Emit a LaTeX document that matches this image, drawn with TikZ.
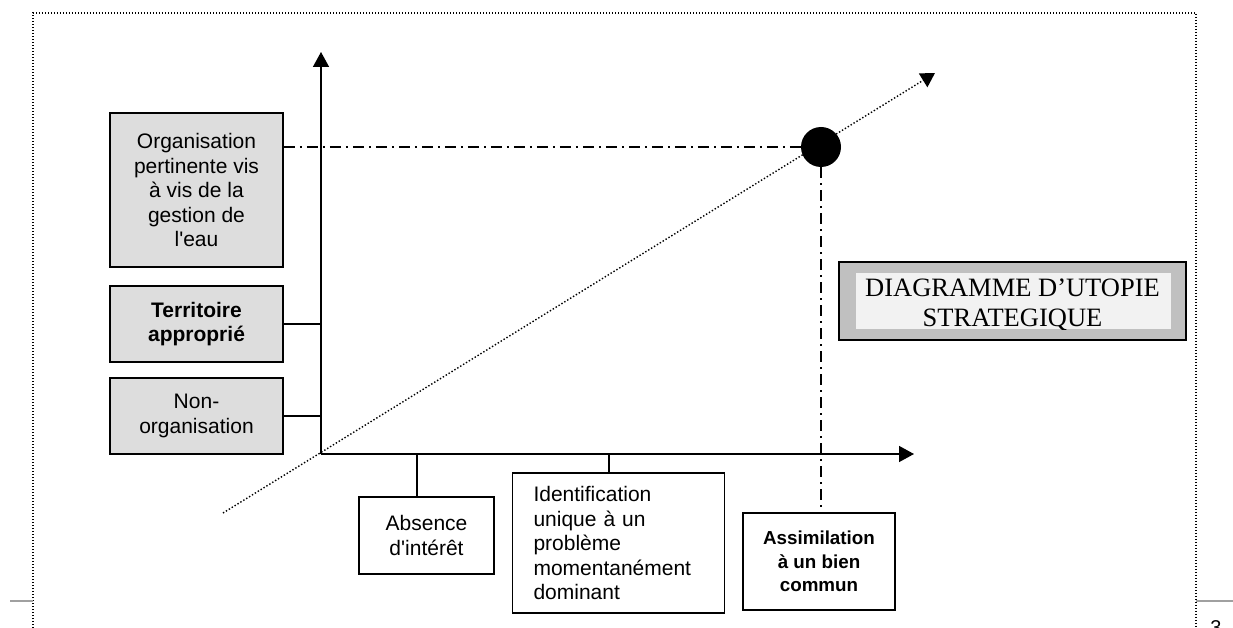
\documentclass[tikz,border=0pt]{standalone}
\usepackage{fontspec}
\setmainfont{Liberation Serif}
\newfontfamily\arialfont{Liberation Sans}
\usetikzlibrary{arrows.meta, positioning}
\definecolor{boxgray}{HTML}{DDDDDD}
\definecolor{titlefill}{HTML}{F2F2F2}
\definecolor{titleshade}{HTML}{C0C0C0}
\definecolor{rulegray}{HTML}{A0A0A0}

\tikzset{
    axis/.style={line width=1.5pt, -{Triangle[length=15pt,width=16pt]}},
    link/.style={line width=1.5pt},
    levelbox/.style={draw, line width=1.5pt, fill=boxgray, inner sep=0pt, align=center, minimum width=173pt},
    stagebox/.style={draw, line width=1.5pt, fill=white, inner sep=0pt, align=center},
    sanstext/.style={font=\arialfont\fontsize{21}{24.5}\selectfont},
    boldtext/.style={font=\arialfont\bfseries\fontsize{21}{24.5}\selectfont},
    guide/.style={line width=1.3pt, dash pattern=on 11pt off 5pt on 2pt off 5pt},
    trend/.style={line width=1.4pt, dash pattern=on 1.4pt off 2pt, -{Triangle[length=14pt,width=16pt]}},
    frame/.style={line width=1.2pt, dash pattern=on 1.2pt off 1.8pt},
}

\begin{document}
\begin{tikzpicture}[x=1pt, y=-1pt]
    \useasboundingbox (0,0) rectangle (1233,628);

    % page frame
    \draw[frame] (33,628) -- (33,13) -- (1196,13) -- (1196,628);
    \draw[rulegray, line width=1.5pt] (10,601) -- (33,601);
    \draw[rulegray, line width=1.5pt] (1196,601) -- (1233,601);
    \node[font=\arialfont\fontsize{20}{24}\selectfont, anchor=base] (pagenum) at (1216,634) {3};

    % draw the axes
    \coordinate (O) at (321,454);
    \coordinate (ytip) at (321,52);
    \coordinate (xtip) at (914,454);
    \draw[axis] (O) -- (ytip);
    \draw[axis] (O) -- (xtip);

    % trend line
    \coordinate (trendstart) at (223,513);
    \coordinate (trendtip) at (935,73);
    \draw[trend] (trendstart) -- (trendtip);

    % levels of organisation
    \node[levelbox, sanstext, minimum height=154pt] (pertinent) at (196.5,190) {Organisation\\pertinente vis\\à vis de la\\gestion de\\l'eau};
    \node[levelbox, boldtext, minimum height=76pt] (territory) at (196.5,324) {Territoire\\approprié};
    \node[levelbox, sanstext, minimum height=76pt] (nonorg) at (196.5,416) {Non-\\organisation};
    \draw[link] (territory.east) -- (territory.east -| O);
    \draw[link] (nonorg.east) -- (nonorg.east -| O);

    % stages of perception
    \node[stagebox, sanstext, minimum width=135pt, minimum height=77pt] (absence) at (426.5,535.5) {Absence\\d'intérêt};
    \node[stagebox, sanstext, align=left, text width=170pt, inner xsep=21pt, minimum height=140pt] (identification) at (618.5,543) {Identification\\unique à un\\problème\\momentanément\\dominant};
    \node[stagebox, font=\arialfont\bfseries\fontsize{18.8}{23.3}\selectfont, minimum width=152pt, minimum height=97pt] (common) at (819,561.5) {Assimilation\\à un bien\\commun};
    \coordinate (absencefoot) at (417,454);
    \coordinate (identfoot) at (609,454);
    \draw[link] (absencefoot) -- (absencefoot |- absence.north);
    \draw[link] (identfoot) -- (identfoot |- identification.north);

    % utopia point
    \node[circle, fill=black, minimum size=40pt, inner sep=0pt] (target) at (821,147) {};
    \draw[guide] (pertinent.east |- target) -- (target.west);
    \draw[guide] (target.south) -- (target.south |- common.north);

    % title
    \node[draw, line width=1.8pt, fill=titleshade, minimum width=347pt, minimum height=78pt] (titleframe) at (1012.5,301) {};
    \node[fill=titlefill, minimum width=315pt, minimum height=56pt] (titlepanel) at (1013.5,301) {};
    \begin{scope}
        \clip (titlepanel.south west) rectangle (titlepanel.north east);
        \node[font=\fontsize{26.5}{30}\selectfont, align=center, inner sep=0pt] (title) at (1012.5,305) {DIAGRAMME D’UTOPIE\\STRATEGIQUE};
    \end{scope}
\end{tikzpicture}
\end{document}
